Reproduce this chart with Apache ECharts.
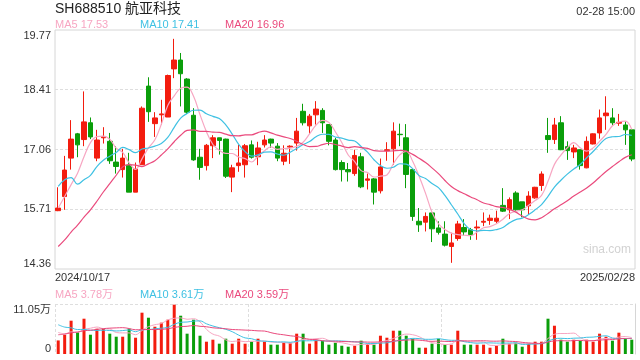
<!DOCTYPE html>
<html><head><meta charset="utf-8">
<script src="https://cdn.jsdelivr.net/npm/echarts@6/dist/echarts.min.js"></script>
<style>html,body{margin:0;padding:0;background:#fff}#c{width:640px;height:360px}</style>
</head><body><div id="c"></div>
<script>
const dates = [
'2024/10/17','2024/10/18','2024/10/21','2024/10/22','2024/10/23','2024/10/24','2024/10/25','2024/10/28','2024/10/29','2024/10/30','2024/10/31',
'2024/11/01','2024/11/04','2024/11/05','2024/11/06','2024/11/07','2024/11/08','2024/11/11','2024/11/12','2024/11/13','2024/11/14','2024/11/15','2024/11/18','2024/11/19','2024/11/20','2024/11/21','2024/11/22','2024/11/25','2024/11/26','2024/11/27','2024/11/28','2024/11/29',
'2024/12/02','2024/12/03','2024/12/04','2024/12/05','2024/12/06','2024/12/09','2024/12/10','2024/12/11','2024/12/12','2024/12/13','2024/12/16','2024/12/17','2024/12/18','2024/12/19','2024/12/20','2024/12/23','2024/12/24','2024/12/25','2024/12/26','2024/12/27','2024/12/30','2024/12/31',
'2025/01/02','2025/01/03','2025/01/06','2025/01/07','2025/01/08','2025/01/09','2025/01/10','2025/01/13','2025/01/14','2025/01/15','2025/01/16','2025/01/17','2025/01/20','2025/01/21','2025/01/22','2025/01/23','2025/01/24','2025/01/27',
'2025/02/05','2025/02/06','2025/02/07','2025/02/10','2025/02/11','2025/02/12','2025/02/13','2025/02/14','2025/02/17','2025/02/18','2025/02/19','2025/02/20','2025/02/21','2025/02/24','2025/02/25','2025/02/26','2025/02/27','2025/02/28'];

const opens = [15.68,16.00,16.87,17.42,17.29,17.67,16.87,17.33,17.25,16.78,16.61,16.71,16.10,16.72,18.50,17.65,17.85,17.80,18.89,19.09,18.66,17.84,16.89,16.70,17.15,17.33,17.30,16.44,16.70,16.72,17.17,16.90,17.17,17.30,17.14,16.80,17.12,17.21,17.93,17.60,17.85,17.95,17.63,17.28,16.77,16.61,16.52,16.90,16.37,16.40,16.13,17.04,17.08,17.41,17.33,16.61,15.44,15.42,15.63,15.29,15.15,14.87,15.05,15.30,15.25,15.29,15.42,15.46,15.44,15.80,15.70,16.08,15.88,15.79,15.97,16.25,17.38,17.29,17.67,17.13,17.01,17.06,16.65,17.19,17.44,17.83,17.78,17.66,17.62,17.51];
const closes = [15.74,16.60,17.30,17.17,17.69,17.35,17.28,17.36,16.81,16.68,16.87,16.10,16.62,18.00,17.92,17.78,17.87,18.74,19.09,18.78,17.91,16.83,16.66,17.16,17.33,17.27,16.46,16.65,16.76,17.15,16.89,17.10,17.28,17.21,16.87,16.98,17.14,17.48,17.67,17.82,17.98,17.67,17.25,16.61,16.61,16.56,16.93,16.22,16.40,16.10,16.67,17.06,17.48,17.40,16.50,15.55,15.36,15.55,15.27,15.19,14.90,14.95,15.38,15.20,15.14,15.31,15.44,15.51,15.51,15.67,15.93,15.70,15.70,16.01,16.21,16.51,17.29,17.62,17.06,17.04,17.10,16.70,17.25,17.42,17.78,17.89,17.67,17.68,17.51,16.85];
const lows = [15.67,15.70,16.61,16.89,17.14,17.30,16.80,17.20,16.74,16.52,16.43,16.10,16.10,16.72,17.69,17.35,17.63,17.80,18.68,18.04,17.87,16.81,16.38,16.59,16.87,16.95,16.42,16.10,16.56,16.43,16.86,16.71,17.11,17.10,16.80,16.71,16.74,17.04,17.61,17.42,17.63,17.44,17.16,16.59,16.34,16.34,16.47,16.19,16.16,15.82,16.07,16.81,16.72,17.14,16.19,15.45,15.20,15.21,14.97,15.14,14.87,14.50,15.00,15.12,15.02,15.02,15.33,15.36,15.40,15.65,15.49,15.68,15.53,15.60,15.95,16.13,16.99,17.19,17.05,16.83,16.87,16.61,16.64,17.18,17.31,17.51,17.60,17.60,17.17,16.80];
const highs = [16.21,16.92,17.73,17.44,18.38,17.79,17.51,17.57,17.44,17.14,17.08,16.99,16.77,18.04,18.70,17.91,18.19,18.76,19.57,19.25,18.68,18.00,17.08,17.19,17.39,17.33,17.31,16.72,17.17,17.19,17.27,17.24,17.39,17.31,17.21,17.16,17.16,17.78,18.10,17.87,18.16,18.00,17.64,17.33,16.82,16.76,17.06,16.99,16.52,16.42,16.86,17.23,17.68,17.65,17.64,16.61,15.74,15.64,15.63,15.44,15.44,15.18,15.45,15.49,15.29,15.46,15.64,15.59,15.68,16.19,15.98,16.12,15.88,16.12,16.22,16.57,17.78,17.78,17.82,17.25,17.17,17.07,17.36,17.43,17.97,18.27,18.00,17.87,17.70,17.51];
const volumes = [30000,42600,73600,47800,78000,42600,55900,55900,44900,38200,38200,55900,36000,91300,80200,60300,69200,75800,109000,84600,44900,75800,40400,27200,31600,22800,33800,22800,33800,22800,27200,33800,27200,20600,20600,25000,25000,44900,44900,22800,31600,
29400,20600,25000,18300,16100,18300,29400,22800,20600,40400,36000,51500,51500,40400,33800,13900,13900,22800,33800,20600,20600,51500,20600,20600,20600,20600,13900,18300,33800,22800,25000,16100,22800,27200,27200,78000,62500,31600,27200,31600,29400,31600,27200,44900,38200,29400,47100,33800,31600];

// closes / volumes of the 19 sessions before the window (for the moving averages)
const preCloses = [13.6,13.8,14.0,14.1,14.0,13.4,13.2,13.0,12.9,13.1,15.10,16.80,18.67,16.69,16.34,15.30,15.95,15.87,15.84];
const preVolumes = [15000,16000,17000,18000,19000,20000,22000,24000,26000,28000,95000,90000,85000,75000,63500,58000,52000,50000,48500];

const priceMin = 14.36, priceMax = 19.77;
const volMax = 110500;
const title = 'SH688510 航亚科技';
const timeText = '02-28 15:00';
const priceMaLegend = ['MA5 17.53','MA10 17.41','MA20 16.96'];
const volMaLegend = ['MA5 3.78万','MA10 3.61万','MA20 3.59万'];
const watermark = 'sina.com';

const RED = '#f31c0e', GREEN = '#0a9e0a';
const MA_COLORS = ['#f7a6c2', '#3fc1e3', '#ea4a7d'];
const FONT = 'Arial, "Liberation Sans", "Noto Sans CJK SC", sans-serif';

function ma(values, pre, n) {
  const all = pre.concat(values);
  const off = pre.length;
  return values.map((_, i) => {
    const end = i + off;
    let s = 0;
    for (let k = end - n + 1; k <= end; k++) s += all[k];
    return +(s / n).toFixed(3);
  });
}

const candleData = opens.map((o, i) => [o, closes[i], lows[i], highs[i]]);
const volData = volumes.map((v, i) => ({
  value: v,
  itemStyle: { color: closes[i] >= opens[i] ? RED : GREEN }
}));
const periods = [5, 10, 20];
const priceMa = periods.map(n => ma(closes, preCloses, n));
const volMa = periods.map(n => ma(volumes, preVolumes, n));

const dotted = { color: '#dedede', type: [3, 2], width: 1 };

function trunc2(v) { return (Math.floor(v * 100 + 1e-6) / 100).toFixed(2); }

const chart = echarts.init(document.getElementById('c'), null, { renderer: 'canvas' });

const legendXs = [55, 140, 225];
const graphics = [
  { type: 'text', style: { x: 55, y: 9, text: title, font: '14px ' + FONT, fill: '#222', textVerticalAlign: 'middle' } },
  { type: 'text', style: { x: 635, y: 12, text: timeText, font: '11px ' + FONT, fill: '#333', textAlign: 'right', textVerticalAlign: 'middle' } },
  { type: 'text', style: { x: 55, y: 278, text: dates[0], font: '11px ' + FONT, fill: '#333', textVerticalAlign: 'middle' } },
  { type: 'text', style: { x: 635, y: 278, text: dates[dates.length - 1], font: '11px ' + FONT, fill: '#333', textAlign: 'right', textVerticalAlign: 'middle' } },
  { type: 'text', style: { x: 583, y: 250, text: watermark, font: '12px ' + FONT, fill: '#d2d2d2', textVerticalAlign: 'middle' } }
];
priceMaLegend.forEach((t, k) => graphics.push({ type: 'text', style: { x: legendXs[k], y: 24.5, text: t, font: '11px ' + FONT, fill: MA_COLORS[k], textVerticalAlign: 'middle' } }));
volMaLegend.forEach((t, k) => graphics.push({ type: 'text', style: { x: legendXs[k], y: 295, text: t, font: '11px ' + FONT, fill: MA_COLORS[k], textVerticalAlign: 'middle' } }));

const lineSeries = [];
periods.forEach((n, k) => {
  lineSeries.push({ type: 'line', name: 'MA' + n, xAxisIndex: 0, yAxisIndex: 0, data: priceMa[k], showSymbol: false, smooth: 0.4, silent: true,
    lineStyle: { color: MA_COLORS[k], width: 1.2 }, z: 3 });
  lineSeries.push({ type: 'line', name: 'VMA' + n, xAxisIndex: 1, yAxisIndex: 1, data: volMa[k], showSymbol: false, smooth: 0.4, silent: true,
    lineStyle: { color: MA_COLORS[k], width: 1 }, z: 3 });
});

chart.setOption({
  animation: false,
  backgroundColor: '#fff',
  textStyle: { fontFamily: FONT },
  graphic: graphics,
  grid: [
    { left: 55, top: 30, width: 580, height: 239, show: true, borderColor: '#d6d6d6', borderWidth: 1, backgroundColor: 'transparent' },
    { left: 55, top: 304, width: 580, height: 50 }
  ],
  xAxis: [
    { type: 'category', gridIndex: 0, data: dates, boundaryGap: true,
      axisLine: { show: false }, axisTick: { show: false }, axisLabel: { show: false }, splitLine: { show: false } },
    { type: 'category', gridIndex: 1, data: dates, boundaryGap: true,
      axisLine: { show: false }, axisTick: { show: false }, axisLabel: { show: false },
      splitLine: { show: true, interval: 29, lineStyle: dotted } }
  ],
  yAxis: [
    { type: 'value', gridIndex: 0, min: priceMin, max: priceMax, interval: (priceMax - priceMin) / 4, scale: true,
      axisLine: { show: false }, axisTick: { show: false },
      splitLine: { show: true, showMinLine: false, showMaxLine: false, lineStyle: dotted },
      axisLabel: { fontSize: 11, color: '#333', margin: 4, fontFamily: FONT, formatter: trunc2,
        verticalAlignMinLabel: 'bottom', verticalAlignMaxLabel: 'top' } },
    { type: 'value', gridIndex: 1, min: 0, max: volMax, interval: volMax,
      axisLine: { show: false }, axisTick: { show: false },
      splitLine: { show: true, showMinLine: false, lineStyle: dotted },
      axisLabel: { fontSize: 11, color: '#333', margin: 4, fontFamily: FONT,
        formatter: v => v === 0 ? '0' : (v / 10000).toFixed(2) + '万',
        verticalAlignMinLabel: 'bottom', verticalAlignMaxLabel: 'top' } },
    { type: 'value', gridIndex: 1, position: 'right', min: 0, max: volMax,
      axisLine: { show: true, lineStyle: { color: '#d6d6d6' } }, axisTick: { show: false },
      axisLabel: { show: false }, splitLine: { show: false } }
  ],
  series: [
    { type: 'candlestick', xAxisIndex: 0, yAxisIndex: 0, data: candleData, barWidth: 5, silent: true,
      itemStyle: { color: RED, color0: GREEN, borderColor: RED, borderColor0: GREEN, borderWidth: 1 } },
    { type: 'bar', xAxisIndex: 1, yAxisIndex: 1, data: volData, barWidth: 3, silent: true }
  ].concat(lineSeries)
});
</script></body></html>
